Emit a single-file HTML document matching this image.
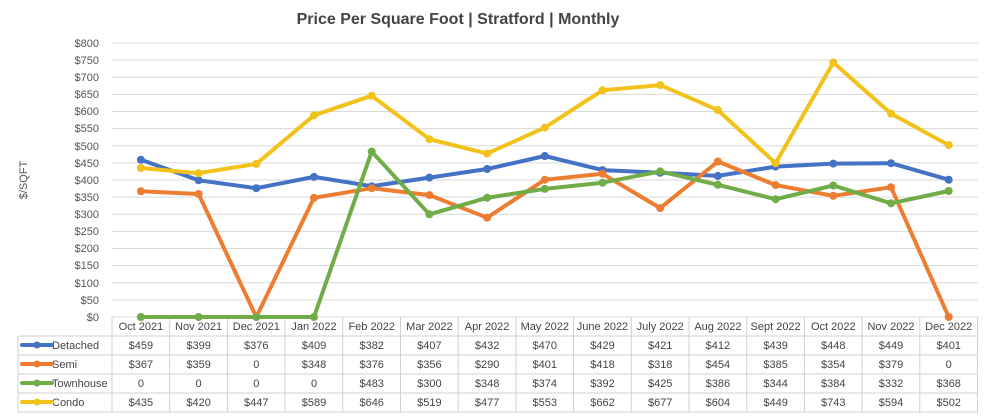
<!DOCTYPE html>
<html><head><meta charset="utf-8"><style>
html,body{margin:0;padding:0;background:#fff;}
svg{display:block;font-family:"Liberation Sans",sans-serif;}
</style></head><body>
<svg width="984" height="417" viewBox="0 0 984 417" xmlns="http://www.w3.org/2000/svg">
<rect width="984" height="417" fill="#fff"/>
<text x="458" y="24" text-anchor="middle" font-size="16" font-weight="bold" fill="#444">Price Per Square Foot | Stratford | Monthly</text>
<g stroke="#d9d9d9" stroke-width="1">
<line x1="112" y1="43.0" x2="978" y2="43.0"/><line x1="112" y1="60.1" x2="978" y2="60.1"/><line x1="112" y1="77.3" x2="978" y2="77.3"/><line x1="112" y1="94.4" x2="978" y2="94.4"/><line x1="112" y1="111.5" x2="978" y2="111.5"/><line x1="112" y1="128.6" x2="978" y2="128.6"/><line x1="112" y1="145.8" x2="978" y2="145.8"/><line x1="112" y1="162.9" x2="978" y2="162.9"/><line x1="112" y1="180.0" x2="978" y2="180.0"/><line x1="112" y1="197.1" x2="978" y2="197.1"/><line x1="112" y1="214.3" x2="978" y2="214.3"/><line x1="112" y1="231.4" x2="978" y2="231.4"/><line x1="112" y1="248.5" x2="978" y2="248.5"/><line x1="112" y1="265.6" x2="978" y2="265.6"/><line x1="112" y1="282.8" x2="978" y2="282.8"/><line x1="112" y1="299.9" x2="978" y2="299.9"/><line x1="112" y1="317" x2="978" y2="317"/>
</g>
<g font-size="11" fill="#555" text-anchor="end">
<text x="99" y="47">$800</text><text x="99" y="64">$750</text><text x="99" y="81">$700</text><text x="99" y="98">$650</text><text x="99" y="115">$600</text><text x="99" y="132">$550</text><text x="99" y="150">$500</text><text x="99" y="167">$450</text><text x="99" y="184">$400</text><text x="99" y="201">$350</text><text x="99" y="218">$300</text><text x="99" y="235">$250</text><text x="99" y="252">$200</text><text x="99" y="269">$150</text><text x="99" y="287">$100</text><text x="99" y="304">$50</text><text x="99" y="321">$0</text>
</g>
<text transform="translate(27,180) rotate(-90)" text-anchor="middle" font-size="11" fill="#555">$/SQFT</text>
<!-- table grid -->
<g stroke="#d0d0d0" stroke-width="1" fill="none">
<line x1="18" y1="336" x2="978" y2="336"/><line x1="18" y1="355" x2="978" y2="355"/><line x1="18" y1="374" x2="978" y2="374"/><line x1="18" y1="393" x2="978" y2="393"/><line x1="18" y1="412" x2="978" y2="412"/>
<line x1="18" y1="336" x2="18" y2="412"/>
<line x1="112" y1="317" x2="112" y2="412"/><line x1="169.7" y1="317" x2="169.7" y2="412"/><line x1="227.4" y1="317" x2="227.4" y2="412"/><line x1="285.1" y1="317" x2="285.1" y2="412"/><line x1="342.8" y1="317" x2="342.8" y2="412"/><line x1="400.5" y1="317" x2="400.5" y2="412"/><line x1="458.2" y1="317" x2="458.2" y2="412"/><line x1="515.9" y1="317" x2="515.9" y2="412"/><line x1="573.6" y1="317" x2="573.6" y2="412"/><line x1="631.3" y1="317" x2="631.3" y2="412"/><line x1="689" y1="317" x2="689" y2="412"/><line x1="746.7" y1="317" x2="746.7" y2="412"/><line x1="804.4" y1="317" x2="804.4" y2="412"/><line x1="862.1" y1="317" x2="862.1" y2="412"/><line x1="919.8" y1="317" x2="919.8" y2="412"/><line x1="977.5" y1="317" x2="977.5" y2="412"/>
</g>
<g font-size="11" fill="#444" text-anchor="middle">
<text x="140.9" y="330">Oct 2021</text><text x="198.6" y="330">Nov 2021</text><text x="256.3" y="330">Dec 2021</text><text x="314" y="330">Jan 2022</text><text x="371.7" y="330">Feb 2022</text><text x="429.4" y="330">Mar 2022</text><text x="487.1" y="330">Apr 2022</text><text x="544.8" y="330">May 2022</text><text x="602.5" y="330">June 2022</text><text x="660.2" y="330">July 2022</text><text x="717.9" y="330">Aug 2022</text><text x="775.6" y="330">Sept 2022</text><text x="833.3" y="330">Oct 2022</text><text x="891" y="330">Nov 2022</text><text x="948.7" y="330">Dec 2022</text>
<g transform="translate(0,349)"><text x="140.9">$459</text><text x="198.6">$399</text><text x="256.3">$376</text><text x="314">$409</text><text x="371.7">$382</text><text x="429.4">$407</text><text x="487.1">$432</text><text x="544.8">$470</text><text x="602.5">$429</text><text x="660.2">$421</text><text x="717.9">$412</text><text x="775.6">$439</text><text x="833.3">$448</text><text x="891">$449</text><text x="948.7">$401</text></g>
<g transform="translate(0,368)"><text x="140.9">$367</text><text x="198.6">$359</text><text x="256.3">0</text><text x="314">$348</text><text x="371.7">$376</text><text x="429.4">$356</text><text x="487.1">$290</text><text x="544.8">$401</text><text x="602.5">$418</text><text x="660.2">$318</text><text x="717.9">$454</text><text x="775.6">$385</text><text x="833.3">$354</text><text x="891">$379</text><text x="948.7">0</text></g>
<g transform="translate(0,387)"><text x="140.9">0</text><text x="198.6">0</text><text x="256.3">0</text><text x="314">0</text><text x="371.7">$483</text><text x="429.4">$300</text><text x="487.1">$348</text><text x="544.8">$374</text><text x="602.5">$392</text><text x="660.2">$425</text><text x="717.9">$386</text><text x="775.6">$344</text><text x="833.3">$384</text><text x="891">$332</text><text x="948.7">$368</text></g>
<g transform="translate(0,406)"><text x="140.9">$435</text><text x="198.6">$420</text><text x="256.3">$447</text><text x="314">$589</text><text x="371.7">$646</text><text x="429.4">$519</text><text x="487.1">$477</text><text x="544.8">$553</text><text x="602.5">$662</text><text x="660.2">$677</text><text x="717.9">$604</text><text x="775.6">$449</text><text x="833.3">$743</text><text x="891">$594</text><text x="948.7">$502</text></g>
</g>
<g font-size="11" fill="#444">
<text x="52" y="349">Detached</text><text x="52" y="368">Semi</text><text x="52" y="387">Townhouse</text><text x="52" y="406">Condo</text>
</g>
<g stroke-width="4" stroke-linecap="round">
<line x1="22" y1="345" x2="52" y2="345" stroke="#4472C4"/><circle cx="37" cy="345" r="3.5" fill="#4472C4"/>
<line x1="22" y1="364" x2="52" y2="364" stroke="#ED7D31"/><circle cx="37" cy="364" r="3.5" fill="#ED7D31"/>
<line x1="22" y1="383" x2="52" y2="383" stroke="#70AD47"/><circle cx="37" cy="383" r="3.5" fill="#70AD47"/>
<line x1="22" y1="402" x2="52" y2="402" stroke="#F2C21B"/><circle cx="37" cy="402" r="3.5" fill="#F2C21B"/>
</g>
<g fill="none" stroke-width="4" stroke-linejoin="round">
<polyline stroke="#4472C4" points="140.9,159.8 198.6,180.3 256.3,188.2 314,176.9 371.7,186.2 429.4,177.6 487.1,169 544.8,156 602.5,170.1 660.2,172.8 717.9,175.9 775.6,166.6 833.3,163.6 891,163.2 948.7,179.7"/>
<polyline stroke="#ED7D31" points="140.9,191.3 198.6,194 256.3,317 314,197.8 371.7,188.2 429.4,195.1 487.1,217.7 544.8,179.7 602.5,173.8 660.2,208.1 717.9,161.5 775.6,185.1 833.3,195.8 891,187.2 948.7,317"/>
<polyline stroke="#70AD47" points="140.9,317 198.6,317 256.3,317 314,317 371.7,151.6 429.4,214.3 487.1,197.8 544.8,188.9 602.5,182.7 660.2,171.4 717.9,184.8 775.6,199.2 833.3,185.5 891,203.3 948.7,191"/>
<polyline stroke="#F2C21B" points="140.9,168 198.6,173.2 256.3,163.9 314,115.3 371.7,95.7 429.4,139.2 487.1,153.6 544.8,127.6 602.5,90.3 660.2,85.1 717.9,110.1 775.6,163.2 833.3,62.5 891,113.6 948.7,145.1"/>
</g>
<g fill="#4472C4"><circle cx="140.9" cy="159.8" r="4"/><circle cx="198.6" cy="180.3" r="4"/><circle cx="256.3" cy="188.2" r="4"/><circle cx="314" cy="176.9" r="4"/><circle cx="371.7" cy="186.2" r="4"/><circle cx="429.4" cy="177.6" r="4"/><circle cx="487.1" cy="169" r="4"/><circle cx="544.8" cy="156" r="4"/><circle cx="602.5" cy="170.1" r="4"/><circle cx="660.2" cy="172.8" r="4"/><circle cx="717.9" cy="175.9" r="4"/><circle cx="775.6" cy="166.6" r="4"/><circle cx="833.3" cy="163.6" r="4"/><circle cx="891" cy="163.2" r="4"/><circle cx="948.7" cy="179.7" r="4"/></g>
<g fill="#ED7D31"><circle cx="140.9" cy="191.3" r="4"/><circle cx="198.6" cy="194" r="4"/><circle cx="256.3" cy="317" r="4"/><circle cx="314" cy="197.8" r="4"/><circle cx="371.7" cy="188.2" r="4"/><circle cx="429.4" cy="195.1" r="4"/><circle cx="487.1" cy="217.7" r="4"/><circle cx="544.8" cy="179.7" r="4"/><circle cx="602.5" cy="173.8" r="4"/><circle cx="660.2" cy="208.1" r="4"/><circle cx="717.9" cy="161.5" r="4"/><circle cx="775.6" cy="185.1" r="4"/><circle cx="833.3" cy="195.8" r="4"/><circle cx="891" cy="187.2" r="4"/><circle cx="948.7" cy="317" r="4"/></g>
<g fill="#70AD47"><circle cx="140.9" cy="317" r="4"/><circle cx="198.6" cy="317" r="4"/><circle cx="256.3" cy="317" r="4"/><circle cx="314" cy="317" r="4"/><circle cx="371.7" cy="151.6" r="4"/><circle cx="429.4" cy="214.3" r="4"/><circle cx="487.1" cy="197.8" r="4"/><circle cx="544.8" cy="188.9" r="4"/><circle cx="602.5" cy="182.7" r="4"/><circle cx="660.2" cy="171.4" r="4"/><circle cx="717.9" cy="184.8" r="4"/><circle cx="775.6" cy="199.2" r="4"/><circle cx="833.3" cy="185.5" r="4"/><circle cx="891" cy="203.3" r="4"/><circle cx="948.7" cy="191" r="4"/></g>
<g fill="#F2C21B"><circle cx="140.9" cy="168" r="4"/><circle cx="198.6" cy="173.2" r="4"/><circle cx="256.3" cy="163.9" r="4"/><circle cx="314" cy="115.3" r="4"/><circle cx="371.7" cy="95.7" r="4"/><circle cx="429.4" cy="139.2" r="4"/><circle cx="487.1" cy="153.6" r="4"/><circle cx="544.8" cy="127.6" r="4"/><circle cx="602.5" cy="90.3" r="4"/><circle cx="660.2" cy="85.1" r="4"/><circle cx="717.9" cy="110.1" r="4"/><circle cx="775.6" cy="163.2" r="4"/><circle cx="833.3" cy="62.5" r="4"/><circle cx="891" cy="113.6" r="4"/><circle cx="948.7" cy="145.1" r="4"/></g>
</svg>
</body></html>
